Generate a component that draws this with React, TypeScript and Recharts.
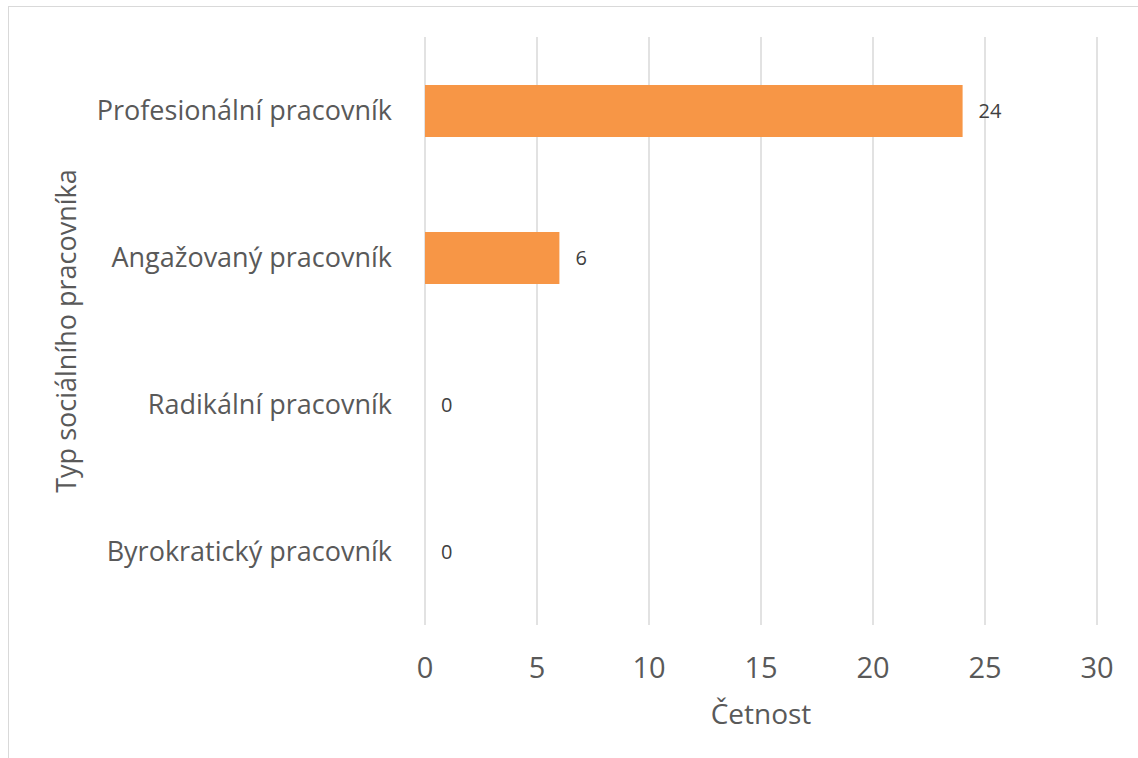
import React from "react";
import {
  ComposedChart,
  Bar,
  Line,
  XAxis,
  YAxis,
  CartesianGrid,
  LabelList,
  Label,
} from "recharts";

const categories = [
  "Profesionální pracovník",
  "Angažovaný pracovník",
  "Radikální pracovník",
  "Byrokratický pracovník",
];
const counts = [24, 6, 0, 0];
const xTicks = [0, 5, 10, 15, 20, 25, 30];

const data = categories.map((name, i) => ({ name, value: counts[i] }));

const FONT = "'Open Sans', 'Noto Sans', sans-serif";
const GREY = "#595959";

export default function App() {
  return (
    <div
      style={{
        position: "absolute",
        left: 0,
        top: 0,
        width: 1138,
        height: 758,
        overflow: "hidden",
        background: "#fff",
      }}
    >
      <div
        style={{
          position: "absolute",
          left: 8,
          top: 6,
          width: 1300,
          height: 900,
          border: "1.5px solid #d9d9d9",
        }}
      />
      <div style={{ position: "absolute", left: 0, top: 0 }}>
        <ComposedChart
          width={1138}
          height={758}
          data={data}
          layout="vertical"
          margin={{ top: 37, right: 41, bottom: 28, left: 0 }}
        >
          <CartesianGrid horizontal={false} stroke="#d9d9d9" strokeWidth={1.5} />
          <XAxis
            type="number"
            domain={[0, 30]}
            ticks={xTicks}
            axisLine={false}
            tickLine={false}
            height={105}
            tick={{ fill: GREY, fontSize: 29, fontFamily: FONT }}
            tickMargin={26}
          >
            <Label
              value="Četnost"
              position="insideBottom"
              offset={6}
              style={{ fill: GREY, fontSize: 28, fontFamily: FONT }}
            />
          </XAxis>
          <YAxis
            type="category"
            dataKey="name"
            width={425}
            axisLine={false}
            tickLine={false}
            tickMargin={27}
            tick={{ fill: GREY, fontSize: 27, fontFamily: FONT }}
          >
            <Label
              value="Typ sociálního pracovníka"
              angle={-90}
              position="insideLeft"
              offset={66}
              style={{ fill: GREY, fontSize: 27, fontFamily: FONT, textAnchor: "middle" }}
            />
          </YAxis>
          <Bar dataKey="value" fill="#f79646" barSize={52} isAnimationActive={false} />
          <Line
            dataKey="value"
            stroke="none"
            dot={false}
            activeDot={false}
            isAnimationActive={false}
          >
            <LabelList
              dataKey="value"
              position="right"
              offset={16}
              style={{ fill: "#404040", fontSize: 20, fontFamily: FONT }}
            />
          </Line>
        </ComposedChart>
      </div>
    </div>
  );
}
